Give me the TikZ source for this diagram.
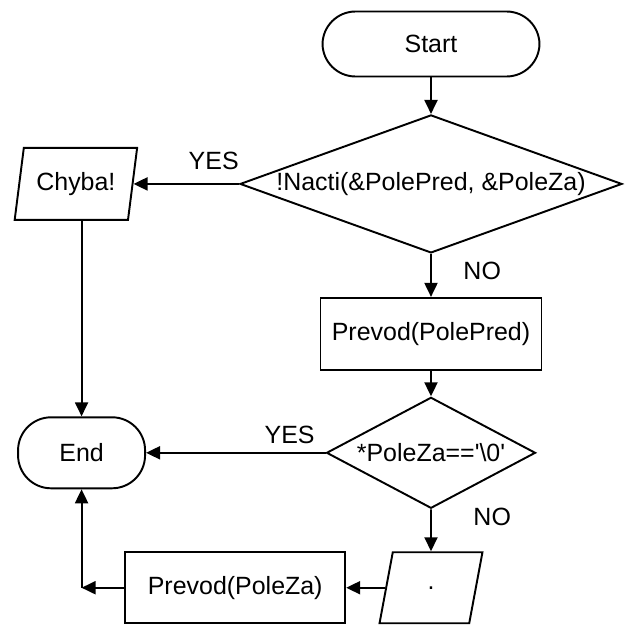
\documentclass[tikz,border=0pt]{standalone}
\usepackage{fontspec}
\setmainfont{Liberation Sans}
\usetikzlibrary{arrows.meta,positioning,shapes.geometric}
\tikzset{
  flowbase/.style={draw=black,line width=1.1pt,align=center,font=\fontsize{14.2}{17}\selectfont,inner sep=2pt},
  termbox/.style={flowbase,rectangle,rounded corners=6.6mm},
  procbox/.style={flowbase,rectangle},
  decbox/.style={flowbase,diamond,inner sep=0pt},
  iobox/.style={flowbase,trapezium,trapezium left angle=76,trapezium right angle=104,trapezium stretches=true},
  flow/.style={-{Triangle[length=2.8mm,width=2.6mm]},line width=1.1pt},
  tag/.style={font=\fontsize{14.2}{17}\selectfont,inner sep=2pt}
}

\begin{document}
\begin{tikzpicture}
  \useasboundingbox (0,0) rectangle (12.58,-12.56);
  % hlavni sloupec
  \node[termbox,minimum width=4.34cm,minimum height=1.30cm] (start) at (8.62,-0.88) {Start};
  \node[decbox,minimum width=7.64cm,minimum height=2.76cm,below=0.73cm of start] (nacti) {\makebox[0pt]{!Nacti(\&PolePred, \&PoleZa)}};
  \node[iobox,minimum width=2.46cm,minimum height=1.44cm,left=2.11cm of nacti] (chyba) {Chyba!};
  \node[procbox,minimum width=4.42cm,minimum height=1.44cm,below=0.86cm of nacti] (ppred) {Prevod(PolePred)};
  \node[decbox,minimum width=4.18cm,minimum height=2.22cm,below=0.51cm of ppred] (konec) {\makebox[0pt]{*PoleZa==\textquotesingle\textbackslash 0\textquotesingle}};
  \node[termbox,minimum width=2.54cm,minimum height=1.42cm,left=3.59cm of konec] (end) {End};
  \node[iobox,minimum width=2.06cm,minimum height=1.42cm,below=0.84cm of konec] (tecka) {.};
  \node[procbox,minimum width=4.40cm,minimum height=1.42cm,left=0.78cm of tecka] (ppza) {Prevod(PoleZa)};
  \coordinate (roh) at (end.south |- ppza.west);

  % spojnice
  \draw[flow] (start) -- (nacti);
  \draw[flow] (nacti.west) -- node[tag,above=2mm,pos=0.24] (ano1) {YES} (chyba.east);
  \draw[flow] (nacti) -- node[tag,right=5.6mm,pos=0.4] (ne1) {NO} (ppred);
  \draw[flow] (end.north |- chyba.south) -- (end.north);
  \draw[flow] (ppred) -- (konec);
  \draw[flow] (konec.west) -- node[tag,above=1mm,pos=0.2] (ano2) {YES} (end.east);
  \draw[flow] (konec) -- node[tag,right=7.6mm,pos=0.19] (ne2) {NO} (tecka);
  \draw[flow] (tecka.west) -- (ppza.east);
  \draw[flow] (ppza.west) -- (roh);
  \draw[flow] (roh) -- (end.south);
\end{tikzpicture}
\end{document}
